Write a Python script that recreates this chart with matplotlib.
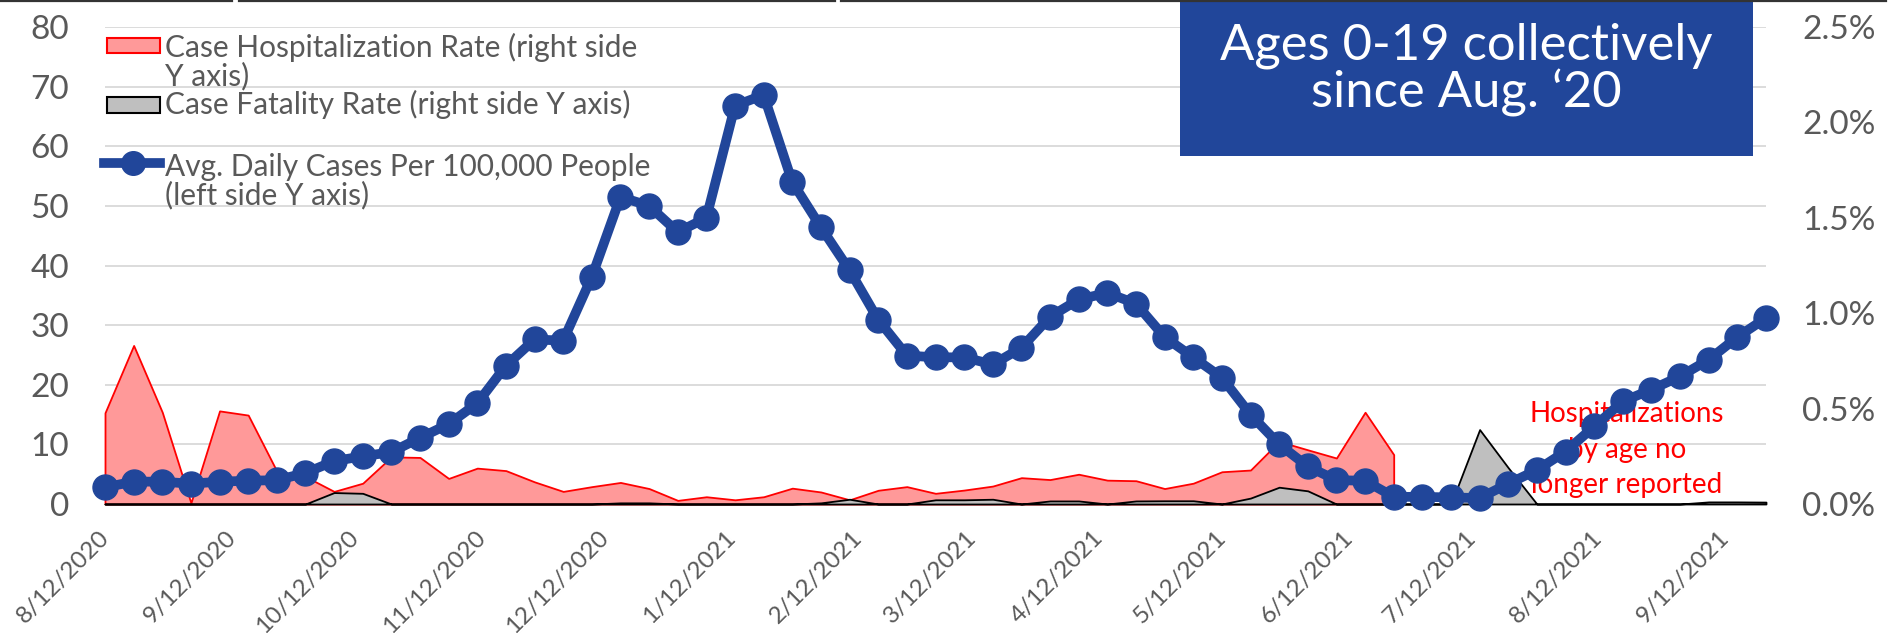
import matplotlib
matplotlib.use("Agg")
import matplotlib.pyplot as plt
import matplotlib.transforms as mtransforms
from matplotlib.patches import Rectangle
from matplotlib.lines import Line2D
import pandas as pd

plt.rcParams['font.family'] = ['Lato', 'DejaVu Sans']

# ---------------- data ----------------
start_date = "2020-08-12"
n_weeks = 59
week_dates = pd.date_range(start_date, periods=n_weeks, freq="7D")

# Avg. daily cases per 100,000 people (left axis)
cases = [2.8, 3.75, 3.75, 3.4, 3.75, 3.9, 4.0, 5.2, 7.2, 8.0,
         8.7, 11.1, 13.4, 16.9, 23.2, 27.6, 27.4, 38.1, 51.5, 50.0,
         45.6, 48.0, 66.8, 68.6, 54.0, 46.4, 39.2, 30.9, 24.9, 24.6,
         24.6, 23.4, 26.2, 31.4, 34.3, 35.4, 33.6, 28.0, 24.6, 21.2,
         15.0, 10.0, 6.3, 4.0, 3.9, 1.2, 1.2, 1.1, 1.0, 3.4,
         5.7, 8.8, 13.0, 17.2, 19.2, 21.4, 24.2, 28.0, 31.2]

# Case hospitalization rate, % (right axis) - reported only for the first 46 weeks
hosp_rate = [0.478, 0.831, 0.481, 0.006, 0.488, 0.466, 0.172, 0.144, 0.066, 0.109,
             0.247, 0.244, 0.134, 0.188, 0.175, 0.116, 0.066, 0.091, 0.113, 0.081,
             0.019, 0.038, 0.022, 0.038, 0.083, 0.063, 0.022, 0.072, 0.091, 0.056,
             0.073, 0.094, 0.138, 0.128, 0.156, 0.125, 0.122, 0.081, 0.109, 0.169,
             0.178, 0.328, 0.284, 0.241, 0.481, 0.259]

# Case fatality rate, % (right axis)
fatality_rate = [0, 0, 0, 0, 0, 0, 0, 0, 0.06, 0.056,
                 0, 0, 0, 0, 0, 0, 0, 0, 0.006, 0.006,
                 0, 0, 0, 0, 0, 0.006, 0.025, 0, 0, 0.022,
                 0.022, 0.025, 0, 0.016, 0.016, 0, 0.016, 0.017, 0.017, 0,
                 0.031, 0.088, 0.069, 0, 0, 0, 0, 0, 0.39, 0.19,
                 0, 0, 0, 0, 0, 0, 0.011, 0.011, 0.01]

tick_dates = ["2020-08-12", "2020-09-12", "2020-10-12", "2020-11-12", "2020-12-12",
              "2021-01-12", "2021-02-12", "2021-03-12", "2021-04-12", "2021-05-12",
              "2021-06-12", "2021-07-12", "2021-08-12", "2021-09-12"]
tick_labels = ["8/12/2020", "9/12/2020", "10/12/2020", "11/12/2020", "12/12/2020",
               "1/12/2021", "2/12/2021", "3/12/2021", "4/12/2021", "5/12/2021",
               "6/12/2021", "7/12/2021", "8/12/2021", "9/12/2021"]
left_ticks = [0, 10, 20, 30, 40, 50, 60, 70, 80]
right_ticks = [0.0, 0.5, 1.0, 1.5, 2.0, 2.5]
right_tick_labels = ["0.0%", "0.5%", "1.0%", "1.5%", "2.0%", "2.5%"]

legend_labels = ["Case Hospitalization Rate (right side\nY axis)",
                 "Case Fatality Rate (right side Y axis)",
                 "Avg. Daily Cases Per 100,000 People\n(left side Y axis)"]
title_text = "Ages 0-19 collectively\nsince Aug. \u201820"
note_text = "Hospitalizations\nby age no\nlonger reported"
note_date = "2021-08-19"
note_level = 0.285

# ---------------- style ----------------
BLUE = "#21469A"
PINK = "#FF9999"
GRAYF = "#BFBFBF"
TXT = "#595959"
GRID = "#D9D9D9"

W, H = 1904, 635
fig = plt.figure(figsize=(W / 100, H / 100), dpi=100)
L, R, T, B = 105, 1766, 27, 504
rect = [L / W, 1 - B / H, (R - L) / W, (B - T) / H]

ax_g = fig.add_axes(rect)
ax_r = fig.add_axes(rect, sharex=ax_g)
ax_b = fig.add_axes(rect, sharex=ax_g, sharey=ax_g)
ax_g.set_zorder(0)
ax_r.set_zorder(1)
ax_b.set_zorder(2)
ax_r.patch.set_visible(False)
ax_b.patch.set_visible(False)

# grid / left axis
ax_g.set_ylim(0, 80)
ax_g.set_yticks(left_ticks)
ax_g.yaxis.grid(True, color=GRID, lw=1.3)
ax_g.xaxis.grid(False)
for s in ax_g.spines.values():
    s.set_visible(False)
ax_g.tick_params(axis='y', length=0, labelsize=24, labelcolor=TXT, pad=26)
ax_g.set_xlim(week_dates[0], week_dates[-1])
ax_g.set_xticks(pd.to_datetime(tick_dates))
ax_g.set_xticklabels(tick_labels, rotation=45, ha='right', va='center',
                     rotation_mode='anchor')
ax_g.tick_params(axis='x', length=0, labelsize=17.5, labelcolor=TXT, pad=22)
offset = mtransforms.ScaledTranslation(1 / 100, 0, fig.dpi_scale_trans)
for lab in ax_g.get_xticklabels():
    lab.set_transform(lab.get_transform() + offset)

# right axis with areas
ax_r.set_ylim(0, 2.5)
ax_r.yaxis.tick_right()
ax_r.set_yticks(right_ticks)
ax_r.set_yticklabels(right_tick_labels)
ax_r.tick_params(axis='y', length=0, labelsize=24, labelcolor=TXT, pad=26)
ax_r.tick_params(axis='x', bottom=False, labelbottom=False)
for s in ax_r.spines.values():
    s.set_visible(False)
ax_r.fill_between(week_dates[:len(hosp_rate)], hosp_rate, 0, facecolor=PINK,
                  edgecolor='red', lw=1.3, clip_on=False)
ax_r.fill_between(week_dates, fatality_rate, 0, facecolor=GRAYF,
                  edgecolor='black', lw=1.3, clip_on=False)
ax_r.text(pd.Timestamp(note_date), note_level, note_text, color='red',
          fontsize=20, ha='center', va='center', linespacing=1.45)

# blue line
ax_b.plot(week_dates, cases, color=BLUE, lw=7, marker='o', ms=18,
          mfc=BLUE, mec=BLUE, clip_on=False, solid_joinstyle='round')
ax_b.axis('off')

# ---------------- title box ----------------
fig.add_artist(Rectangle((1180 / W, 1 - 156 / H), (1753 - 1180) / W, 154 / H,
                         transform=fig.transFigure, facecolor=BLUE,
                         edgecolor='none', zorder=5))
fig.text(1466 / W, 1 - 70 / H, title_text, ha='center', va='center',
         color='white', fontsize=36.5, linespacing=1.0, zorder=6)

# ---------------- legend (manual) ----------------
def fx(x):
    return x / W

def fy(y):
    return 1 - y / H

fig.add_artist(Rectangle((fx(107), fy(53)), 53 / W, 15 / H, transform=fig.transFigure,
                         facecolor=PINK, edgecolor='red', lw=1.5, zorder=7))
fig.add_artist(Rectangle((fx(107), fy(113)), 53 / W, 16 / H, transform=fig.transFigure,
                         facecolor=GRAYF, edgecolor='black', lw=1.5, zorder=7))
fig.add_artist(Line2D([fx(104), fx(133), fx(160)], [fy(163)] * 3,
                      transform=fig.transFigure, color=BLUE, lw=7, marker='o',
                      ms=17, markevery=[1], zorder=7))
fig.text(fx(165), fy(62), legend_labels[0], ha='left', va='center', color=TXT,
         fontsize=21.5, linespacing=1.0, zorder=7)
fig.text(fx(165), fy(104), legend_labels[1], ha='left', va='center', color=TXT,
         fontsize=21.5, zorder=7)
fig.text(fx(165), fy(181), legend_labels[2], ha='left', va='center', color=TXT,
         fontsize=21.5, linespacing=1.0, zorder=7)

# thin dark border at the top of the slide crop
for x0, x1 in [(0, 232), (239, 835), (841, 1886)]:
    fig.add_artist(Line2D([fx(x0), fx(x1)], [fy(1), fy(1)], transform=fig.transFigure,
                          color="#333333", lw=1.6, zorder=8))

fig.savefig("out.png", dpi=100)
